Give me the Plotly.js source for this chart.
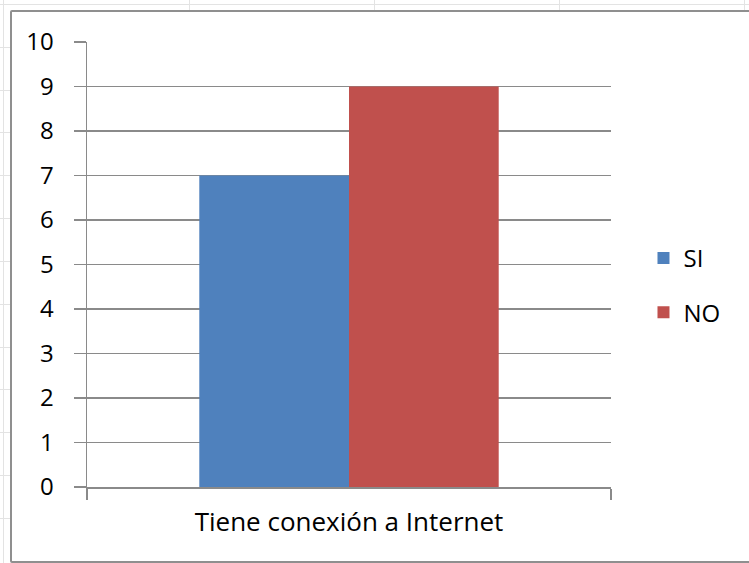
<!DOCTYPE html>
<html>
<head>
<meta charset="utf-8">
<script src="https://cdn.plot.ly/plotly-3.0.1.min.js"></script>
<style>
  html, body { margin: 0; padding: 0; background: #ffffff; }
  #sheet { position: absolute; left: 0; top: 0; width: 749px; height: 563px; overflow: hidden; background: #ffffff; }
  .hline { position: absolute; left: 0; width: 749px; height: 1px; background: #e3e3e3; }
  .vline { position: absolute; top: 0; width: 1px; height: 563px; background: #e3e3e3; }
  #frame { position: absolute; left: 10px; top: 10px; width: 760px; height: 549px;
           background: #ffffff; border: 2px solid #8f8f8f; border-radius: 2px; }
  #chart { position: absolute; left: 0; top: 0; width: 749px; height: 563px; }
</style>
</head>
<body>
<div id="sheet"></div>
<div id="chart"></div>
<script>
// Spreadsheet cell grid behind the chart object
const rowLines = [4, 47, 90, 132, 175, 218, 261, 304, 347, 389, 432, 475, 518];
const colLines = [3, 189, 374, 559, 744];
const sheet = document.getElementById('sheet');
rowLines.forEach(function (y) {
  const d = document.createElement('div');
  d.className = 'hline'; d.style.top = y + 'px'; sheet.appendChild(d);
});
colLines.forEach(function (x) {
  const d = document.createElement('div');
  d.className = 'vline'; d.style.left = x + 'px'; sheet.appendChild(d);
});
const frame = document.createElement('div');
frame.id = 'frame';
sheet.appendChild(frame);

// Survey answers
const categories = ['Tiene conexión a Internet'];
const seriesNames = ['SI', 'NO'];
const siValues = [7];
const noValues = [9];
const yTicks = [0, 1, 2, 3, 4, 5, 6, 7, 8, 9, 10];

const FONT = '"Open Sans", Lato, sans-serif';
const GRID = '#8a8a8a';

const traces = [
  { type: 'bar', name: seriesNames[0], x: categories, y: siValues,
    marker: { color: '#4f81bd' }, legendgroup: 'a', hoverinfo: 'y' },
  { type: 'bar', name: seriesNames[1], x: categories, y: noValues,
    marker: { color: '#c0504d' }, legendgroup: 'b', hoverinfo: 'y' }
];

const layout = {
  width: 749, height: 563,
  margin: { l: 87, r: 138, t: 42, b: 76, pad: 0 },
  paper_bgcolor: 'rgba(0,0,0,0)',
  plot_bgcolor: 'rgba(0,0,0,0)',
  font: { family: FONT, size: 24, color: '#000000' },
  barmode: 'group',
  bargap: 0.4286,
  bargroupgap: 0,
  showlegend: true,
  legend: {
    x: 1.062, xanchor: 'left', y: 0.453, yanchor: 'middle',
    font: { family: FONT, size: 24, color: '#000000' },
    tracegroupgap: 20, traceorder: 'grouped',
    bgcolor: 'rgba(0,0,0,0)', borderwidth: 0
  },
  xaxis: {
    type: 'category',
    showgrid: false, zeroline: false,
    showline: true, linecolor: GRID, linewidth: 1.5,
    ticks: 'outside', tickson: 'boundaries', ticklen: 11,
    tickcolor: GRID, tickwidth: 1.5,
    ticklabelstandoff: 11,
    tickfont: { family: FONT, size: 26, color: '#000000' }
  },
  yaxis: {
    range: [0, 10], tickvals: yTicks, ticktext: yTicks.map(String),
    showgrid: true, gridcolor: GRID, gridwidth: 1.5,
    zeroline: false,
    showline: true, linecolor: GRID, linewidth: 1.5,
    ticks: 'outside', ticklen: 12, tickcolor: GRID, tickwidth: 1.5,
    ticklabelstandoff: 15,
    tickfont: { family: FONT, size: 24, color: '#000000' }
  }
};

Plotly.newPlot('chart', traces, layout, { displayModeBar: false, staticPlot: true });
</script>
</body>
</html>
